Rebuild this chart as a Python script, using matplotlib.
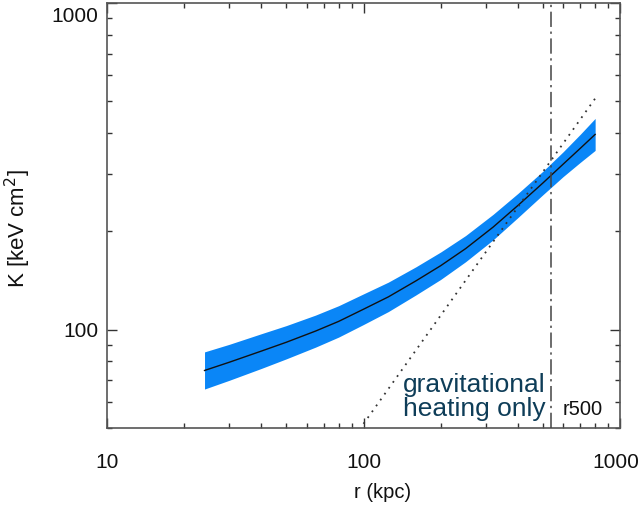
import matplotlib
matplotlib.use("Agg")
import matplotlib.pyplot as plt
import matplotlib.transforms as mtransforms
from matplotlib.ticker import LogLocator, NullFormatter, FixedLocator, FixedFormatter

plt.rcParams['font.family'] = ['Liberation Sans', 'DejaVu Sans']

# entropy profile
r_kpc = [24, 30, 40, 50, 65, 80, 100, 125, 160, 200, 250, 320, 400, 500, 600, 700, 800]
K_mid = [75, 79.5, 86, 91.5, 99, 106, 115.5, 126, 141, 157, 177, 206, 240, 281, 321, 359, 396]
K_hi = [85.5, 90.2, 97.2, 102.9, 110.8, 118.4, 128.7, 139.8, 155.7, 172.9, 194.1, 225.4,
        261.3, 305.3, 350.3, 396.4, 443.3]
K_lo = [65.8, 70.0, 76.1, 81.4, 88.4, 94.9, 103.7, 113.6, 127.7, 142.5, 161.4, 188.3,
        220.4, 258.7, 294.1, 325.2, 353.8]

# gravitational heating only baseline
r_grav = [100, 800]
K_grav = [51.5, 510]

r500 = 540

xticks = [10, 100, 1000]
xticklabels = ["10", "100", "1000"]
yticks = [100, 1000]
yticklabels = ["100", "1000"]

fig = plt.figure(figsize=(6.41, 5.05), dpi=100)
ax = fig.add_axes([107/641, 1-428/505, 513/641, (428-3.0)/505])

ax.fill_between(r_kpc, K_lo, K_hi, color='#0a86f7', lw=0, zorder=2)
ax.plot(r_kpc, K_mid, color='#111111', lw=1.0, zorder=3)
ax.plot(r_grav, K_grav, color='#333333', lw=1.3, linestyle=(0, (1, 3)), zorder=4)
ax.axvline(r500, color='#444444', lw=1.1, linestyle=(0, (10, 3, 1.5, 3)), zorder=4)

ax.set_xscale('log')
ax.set_yscale('log')
ax.set_xlim(10, 1000)
ax.set_ylim(50, 1000)

ax.xaxis.set_major_locator(FixedLocator(xticks))
ax.xaxis.set_major_formatter(FixedFormatter(xticklabels))
ax.yaxis.set_major_locator(FixedLocator(yticks))
ax.yaxis.set_major_formatter(FixedFormatter(yticklabels))
ax.xaxis.set_minor_locator(LogLocator(base=10, subs=range(2, 10)))
ax.yaxis.set_minor_locator(LogLocator(base=10, subs=range(2, 10)))
ax.xaxis.set_minor_formatter(NullFormatter())
ax.yaxis.set_minor_formatter(NullFormatter())

ax.tick_params(which='both', direction='in', top=True, right=True,
               color='#333333', width=1.0, labelsize=15, labelcolor='#111111')
ax.tick_params(which='major', length=7.5)
ax.tick_params(which='minor', length=3.8)
ax.tick_params(axis='x', which='major', pad=18.0)
ax.tick_params(axis='y', which='major', pad=6.0)

for s in ax.spines.values():
    s.set_color('#555555')
    s.set_linewidth(1.2)

# shift the 1000 y label down like the reference
for lab in ax.get_yticklabels():
    if lab.get_text() == "1000":
        lab.set_transform(lab.get_transform() + mtransforms.ScaledTranslation(0, -11/100, fig.dpi_scale_trans))
# keep the 1000 x label inside the figure
for lab in ax.get_xticklabels():
    if lab.get_text() == "1000":
        lab.set_transform(lab.get_transform() + mtransforms.ScaledTranslation(-4/100, 0, fig.dpi_scale_trans))

ax.set_xlabel("r (kpc)", fontsize=14.5, color='#111111')
ax.xaxis.set_label_coords((383-107)/513, (428-493)/425)
ax.xaxis.label.set_va('center')
ax.set_ylabel("K [keV cm$^2$]", fontsize=16, color='#111111')
ax.yaxis.set_label_coords((18-107)/513, (428-229)/425)
ax.yaxis.label.set_va('center')

ax.text((403-107)/513, (428-421)/425, "gravitational\nheating only", transform=ax.transAxes,
        ha='left', va='bottom', fontsize=19, color='#0e3d58', linespacing=1.0, zorder=5)
ax.text((563-107)/513, (428-415)/425, "r500", transform=ax.transAxes,
        ha='left', va='baseline', fontsize=14.5, color='#111111', zorder=5)

fig.savefig("out.png", dpi=100)
